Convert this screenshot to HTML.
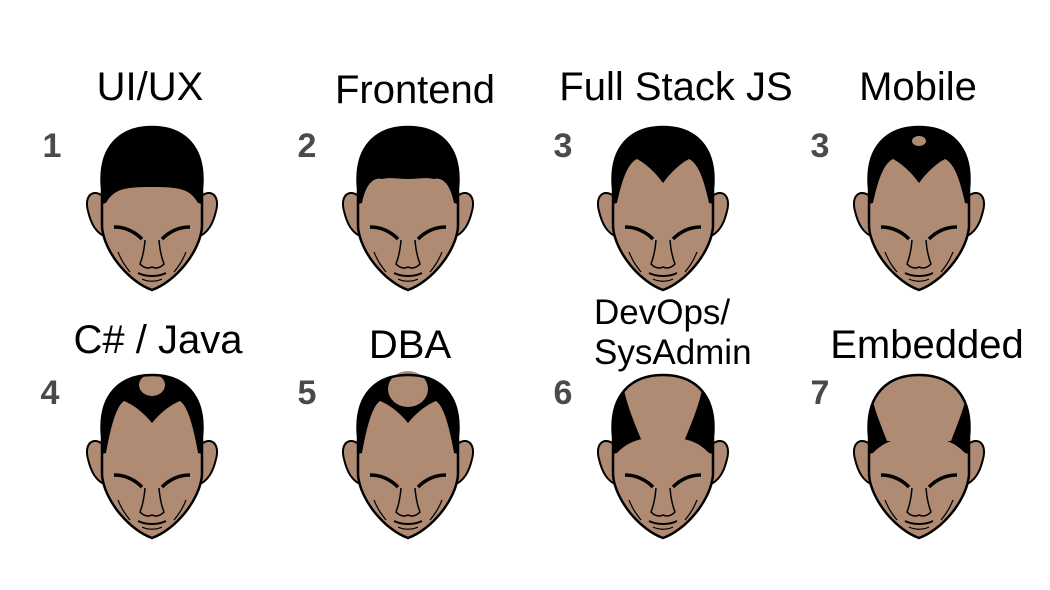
<!DOCTYPE html>
<html><head><meta charset="utf-8"><style>
html,body{margin:0;padding:0;background:#fff;}
svg{display:block}
text{font-family:"Liberation Sans",sans-serif;}
.l{font-size:40px;fill:#000}
.n{font-size:34px;font-weight:bold;fill:#4a4a4a}
</style></head><body>
<svg width="1050" height="590" viewBox="0 0 1050 590" xmlns="http://www.w3.org/2000/svg">
<defs>
<path id="face" d="M12,62 C8,20 30,0 62,0 C94,0 116,20 112,62 L112,100 C110,125 85,155 62,163 C39,155 14,125 12,100 Z"/>
<clipPath id="fc"><use href="#face"/></clipPath>
<g id="base">
  <path d="M14,70 C2,60 -6,70 -2,84 C1,97 6,106 16,110 Z" fill="#b08b74" stroke="#000" stroke-width="2"/>
  <path d="M110,70 C122,60 130,70 126,84 C123,97 118,106 108,110 Z" fill="#b08b74" stroke="#000" stroke-width="2"/>
  <use href="#face" fill="#b08b74"/>
</g>
<g id="feat" fill="none" stroke="#000" stroke-width="2">
  <use href="#face" stroke-width="2.5"/>
  <path d="M24,100 C34,100 44,104 52,112" stroke-width="3.5"/>
  <path d="M100,100 C90,100 80,104 72,112" stroke-width="3.5"/>
  <path d="M55,113 C54,125 52,132 50,137 C54,141 58,142 62,140 C66,142 70,141 74,137 C72,132 70,125 69,113" stroke-width="1.5"/>
  <path d="M48,146 C56,150 68,150 76,146" stroke-width="2"/>
  <path d="M52,152 C58,155 66,155 72,152" stroke-width="1.2"/>
  <path d="M28,125 C32,135 36,140 40,145" stroke-width="1.2"/>
  <path d="M96,125 C92,135 88,140 84,145" stroke-width="1.2"/>
</g>
<path id="recede" d="M0,0 H124 V82 L108,78 C102,44 96,30 90,26 C80,30 70,38 62,48 C54,38 44,30 34,26 C28,30 22,44 16,78 L0,82 Z"/>
<path id="full" d="M0,0 H124 V82 L108,78 C100,70 90,62 62,62 C34,62 24,70 16,78 L0,82 Z"/>
<g id="h1"><use href="#base"/><path clip-path="url(#fc)" d="M0,0 H124 V80 L108,76 C100,62 90,60 62,60 C34,60 24,62 16,76 L0,80 Z"/><use href="#feat"/></g>
<g id="h2"><use href="#base"/><path clip-path="url(#fc)" d="M0,0 H124 V80 L108,76 C104,56 96,50 88,52 C80,50 70,52 62,52 C54,52 44,50 36,52 C28,50 20,56 16,76 L0,80 Z"/><use href="#feat"/></g>
<g id="h3"><use href="#base"/><path clip-path="url(#fc)" d="M0,0 H124 V80 L108,76 C102,48 96,36 88,32 C80,36 70,45 62,56 C54,45 44,36 36,32 C28,36 22,48 16,76 L0,80 Z"/><use href="#feat"/></g>
<g id="h4"><use href="#h3"/><ellipse cx="62" cy="14" rx="7" ry="5" fill="#b08b74"/></g>
<g id="h5"><use href="#base"/><use href="#recede" clip-path="url(#fc)"/><ellipse cx="62" cy="10" rx="13" ry="11" fill="#b08b74"/><use href="#feat"/></g>
<g id="h6"><use href="#base"/><use href="#recede" clip-path="url(#fc)"/><ellipse cx="62" cy="14" rx="20" ry="18" fill="#b08b74"/><use href="#feat"/></g>
<g id="h7"><use href="#base"/><g clip-path="url(#fc)"><use href="#full"/><path d="M20,-5 C22,20 30,40 40,64 L84,64 C94,40 102,20 104,-5 Z" fill="#b08b74"/></g><use href="#feat"/></g>
<g id="h8"><use href="#base"/><g clip-path="url(#fc)"><use href="#full"/><path d="M10,-5 C13,25 22,45 30,66 L94,66 C102,45 111,25 114,-5 Z" fill="#b08b74"/></g><use href="#feat"/></g>
</defs>

<use href="#h1" x="90" y="127"/>
<use href="#h2" x="346" y="127"/>
<use href="#h3" x="601" y="127"/>
<use href="#h4" x="857" y="127"/>
<use href="#h5" x="90" y="375"/>
<use href="#h6" x="346" y="375"/>
<use href="#h7" x="601" y="375"/>
<use href="#h8" x="857" y="375"/>

<text class="l" x="150" y="100" text-anchor="middle">UI/UX</text>
<text class="l" x="415" y="103" text-anchor="middle">Frontend</text>
<text class="l" x="676" y="100" text-anchor="middle">Full Stack JS</text>
<text class="l" x="918" y="100" text-anchor="middle">Mobile</text>
<text class="l" x="158" y="353" text-anchor="middle">C# / Java</text>
<text class="l" x="410" y="358" text-anchor="middle">DBA</text>
<text class="l" x="594" y="324" style="font-size:35px">DevOps/</text>
<text class="l" x="594" y="364" style="font-size:35px">SysAdmin</text>
<text class="l" x="927" y="358" text-anchor="middle">Embedded</text>

<text class="n" x="52" y="157" text-anchor="middle">1</text>
<text class="n" x="307" y="157" text-anchor="middle">2</text>
<text class="n" x="563" y="157" text-anchor="middle">3</text>
<text class="n" x="820" y="157" text-anchor="middle">3</text>
<text class="n" x="50" y="404" text-anchor="middle">4</text>
<text class="n" x="307" y="404" text-anchor="middle">5</text>
<text class="n" x="563" y="404" text-anchor="middle">6</text>
<text class="n" x="820" y="404" text-anchor="middle">7</text>
</svg>
</body></html>
